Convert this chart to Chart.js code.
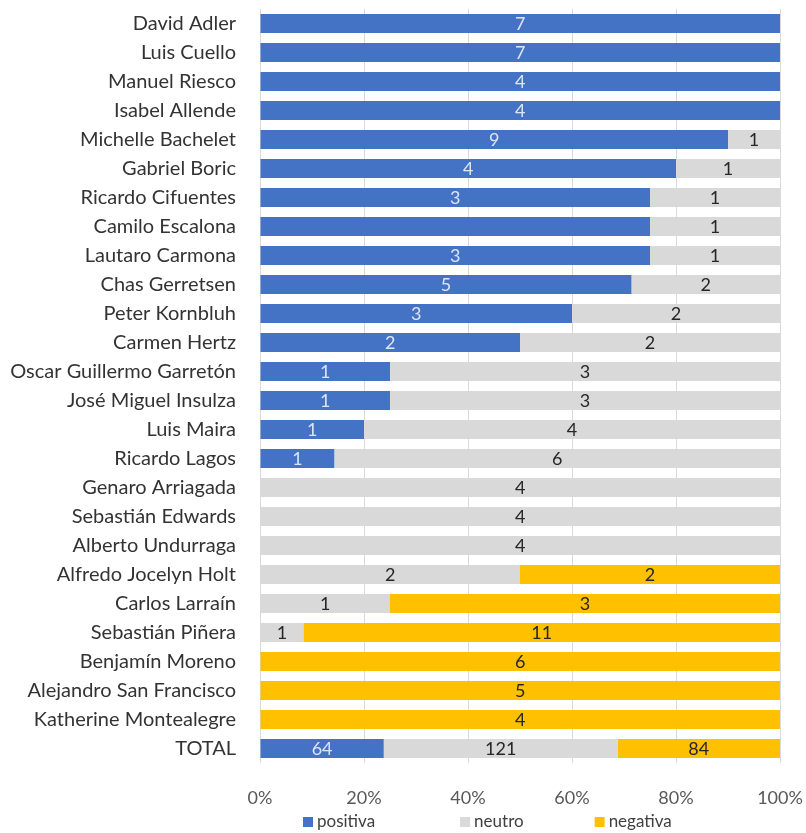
<!DOCTYPE html>
<html>
<head>
<meta charset="utf-8">
<script src="https://cdn.jsdelivr.net/npm/chart.js@4.4.0/dist/chart.umd.min.js"></script>
<style>
  html, body { margin: 0; padding: 0; background: #fff; }
  #wrap { position: relative; width: 806px; height: 833px; }
</style>
</head>
<body>
<div id="wrap"><canvas id="c" width="806" height="833"></canvas></div>
<script>
// names, top to bottom
const names = [
  'David Adler', 'Luis Cuello', 'Manuel Riesco', 'Isabel Allende', 'Michelle Bachelet',
  'Gabriel Boric', 'Ricardo Cifuentes', 'Camilo Escalona', 'Lautaro Carmona', 'Chas Gerretsen',
  'Peter Kornbluh', 'Carmen Hertz', 'Oscar Guillermo Garretón', 'José Miguel Insulza', 'Luis Maira',
  'Ricardo Lagos', 'Genaro Arriagada', 'Sebastián Edwards', 'Alberto Undurraga', 'Alfredo Jocelyn Holt',
  'Carlos Larraín', 'Sebastián Piñera', 'Benjamín Moreno', 'Alejandro San Francisco', 'Katherine Montealegre',
  'TOTAL'
];

// mention counts per sentiment
const positiva = [7, 7, 4, 4, 9, 4, 3, 3, 3, 5, 3, 2, 1, 1, 1, 1, 0, 0, 0, 0, 0, 0, 0, 0, 0, 64];
const neutro   = [0, 0, 0, 0, 1, 1, 1, 1, 1, 2, 2, 2, 3, 3, 4, 6, 4, 4, 4, 2, 1, 1, 0, 0, 0, 121];
const negativa = [0, 0, 0, 0, 0, 0, 0, 0, 0, 0, 0, 0, 0, 0, 0, 0, 0, 0, 0, 2, 3, 11, 6, 5, 4, 84];

// the reference leaves one label out (Camilo Escalona, positiva)
const hiddenLabels = [{ series: 0, row: 7 }];

const xTicks = ['0%', '20%', '40%', '60%', '80%', '100%'];

const FONT = 'Lato, "Open Sans", sans-serif';

// 100% stacked: each row as share of its own total
const rowTotal = names.map((_, i) => positiva[i] + neutro[i] + negativa[i]);
const share = arr => arr.map((v, i) => rowTotal[i] ? v / rowTotal[i] * 100 : 0);

const series = [
  { label: 'positiva', counts: positiva, color: '#4472C4', text: 'rgba(255,255,255,0.82)' },
  { label: 'neutro',   counts: neutro,   color: '#D9D9D9', text: '#262626' },
  { label: 'negativa', counts: negativa, color: '#FFC000', text: '#262626' }
];

// draws the count inside each segment
const countLabels = {
  id: 'countLabels',
  afterDatasetsDraw(chart) {
    const ctx = chart.ctx;
    ctx.save();
    ctx.font = '18px ' + FONT;
    ctx.textAlign = 'center';
    ctx.textBaseline = 'middle';
    chart.data.datasets.forEach((ds, di) => {
      const meta = chart.getDatasetMeta(di);
      meta.data.forEach((bar, i) => {
        const n = ds.counts[i];
        if (!n) return;
        if (hiddenLabels.some(h => h.series === di && h.row === i)) return;
        const left = Math.min(bar.x, bar.base), right = Math.max(bar.x, bar.base);
        ctx.fillStyle = ds.textColor;
        ctx.fillText(String(n), (left + right) / 2, bar.y + 1);
      });
    });
    ctx.restore();
  }
};

// bottom legend, spread out like the original
const legendGaps = [85, 71];
const wideLegend = {
  id: 'wideLegend',
  afterDraw(chart) {
    const ctx = chart.ctx;
    const y = chart.height - 11;
    let x = chart.chartArea.left + 43;
    ctx.save();
    ctx.font = '17px ' + FONT;
    ctx.textBaseline = 'middle';
    chart.data.datasets.forEach((ds, i) => {
      ctx.fillStyle = ds.backgroundColor;
      ctx.fillRect(x, y - 5, 10, 10);
      ctx.fillStyle = '#404040';
      ctx.fillText(ds.label, x + 14, y);
      x += 14 + ctx.measureText(ds.label).width + (legendGaps[i] || 0);
    });
    ctx.restore();
  }
};

new Chart(document.getElementById('c').getContext('2d'), {
  type: 'bar',
  data: {
    labels: names,
    datasets: series.map(s => ({
      label: s.label,
      data: share(s.counts),
      counts: s.counts,
      textColor: s.text,
      backgroundColor: s.color,
      borderWidth: 0,
      categoryPercentage: 0.66,
      barPercentage: 1
    }))
  },
  options: {
    indexAxis: 'y',
    responsive: false,
    animation: false,
    layout: { padding: { top: 9, right: 26, bottom: 28, left: 0 } },
    plugins: { legend: { display: false }, tooltip: { enabled: false } },
    scales: {
      x: {
        stacked: true,
        min: 0,
        max: 100,
        afterFit: (s) => { s.height = 42; s.paddingLeft = 0; s.paddingRight = 0; },
        ticks: {
          stepSize: 20,
          padding: 24,
          color: '#595959',
          font: { family: FONT, size: 18 },
          callback: (v) => xTicks[Math.round(v / 20)]
        },
        grid: { color: '#D9D9D9', drawTicks: false },
        border: { display: false }
      },
      y: {
        stacked: true,
        afterFit: (s) => { s.width = 260; s.paddingTop = 0; s.paddingBottom = 0; },
        ticks: {
          padding: 16,
          color: '#333333',
          font: { family: FONT, size: 20 },
          autoSkip: false
        },
        grid: { display: false },
        border: { display: false }
      }
    }
  },
  plugins: [countLabels, wideLegend]
});
</script>
</body>
</html>
